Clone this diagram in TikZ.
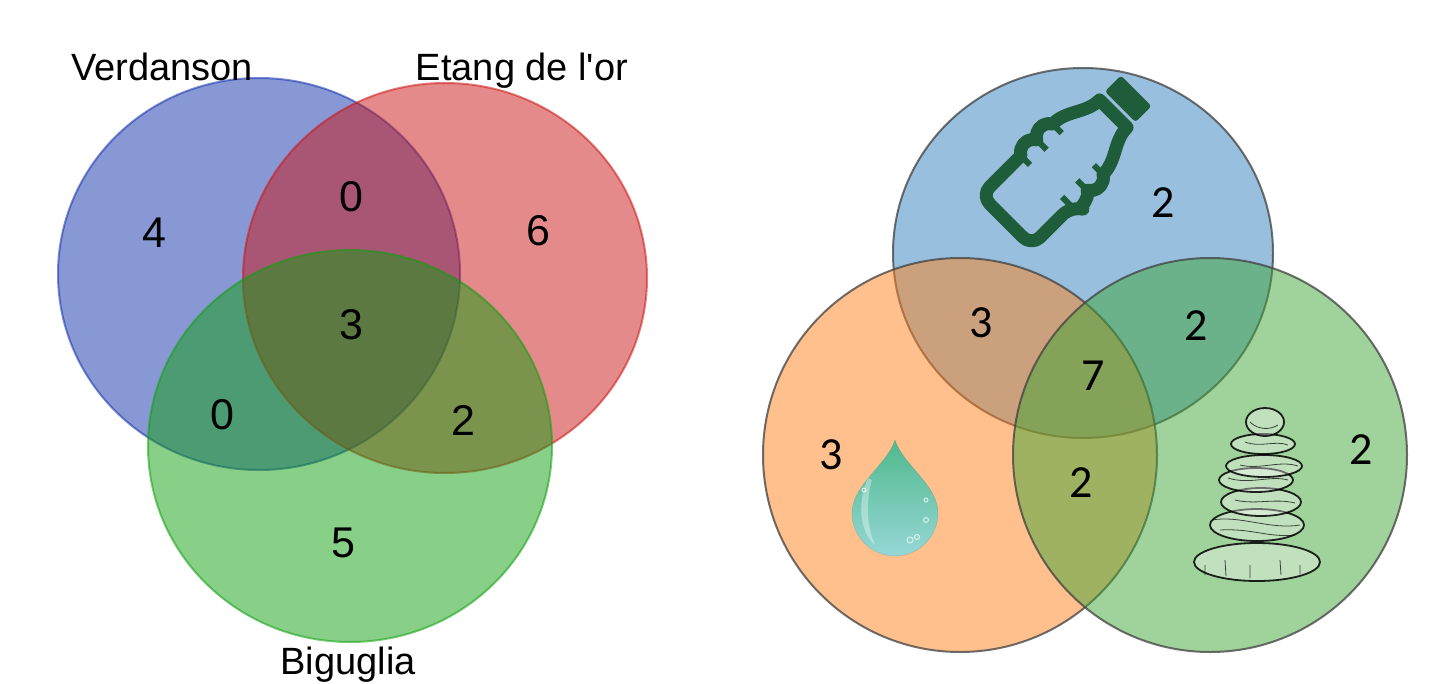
\documentclass[tikz,border=0pt]{standalone}
\usepackage{fontspec}
\setmainfont{Liberation Sans}[Ligatures=TeXOff]
\newfontfamily\calib{Carlito}
\definecolor{lblue}{RGB}{17,49,171}
\definecolor{lred}{RGB}{203,21,21}
\definecolor{lgreen}{RGB}{17,159,17}
\definecolor{rblue}{RGB}{49,129,189}
\definecolor{rorange}{RGB}{255,129,29}
\definecolor{rgreen}{RGB}{65,165,55}
\definecolor{bottle}{RGB}{31,92,58}
\definecolor{dropA}{RGB}{80,185,140}
\definecolor{dropB}{RGB}{150,215,215}
\begin{document}
\begin{tikzpicture}[x=1pt,y=1pt,
  lnum/.style={font=\fontsize{43}{50}\selectfont, inner sep=0pt},
  lab/.style={font=\fontsize{38}{44}\selectfont, inner sep=0pt, anchor=base},
  rnum/.style={font=\calib\fontsize{46}{52}\selectfont, inner sep=0pt},
  lset/.style={fill=#1, fill opacity=0.5, draw=#1, draw opacity=0.55, line width=2},
  rset/.style={fill=#1, fill opacity=0.5, draw=black!75, draw opacity=0.75, line width=2},
  stone/.style={fill=white, fill opacity=0.35, draw=black, draw opacity=0.85, line width=1.8},
  hatch/.style={draw=black, line width=0.8, opacity=0.7}
]
\useasboundingbox (0,0) rectangle (1443,-683);
% ---------- left Venn ----------
\path[lset=lblue] (259,-274) ellipse[x radius=201, y radius=196];
\path[lset=lred] (445,-278) ellipse[x radius=202, y radius=195];
\path[lset=lgreen] (350,-446) ellipse[x radius=202, y radius=196];
\node[lab] (verd) at (162,-80) {Verdanson};
\node[lab] (etang) at (522,-80) {Etang de l'or};
\node[lab] (big) at (348,-674) {Biguglia};
\node[lnum] (l4) at (154,-233) {4};
\node[lnum] (l0a) at (351,-197) {0};
\node[lnum] (l6) at (538,-231) {6};
\node[lnum] (l3) at (351,-325) {3};
\node[lnum] (l0b) at (222,-415) {0};
\node[lnum] (l2) at (463,-420) {2};
\node[lnum] (l5) at (343,-543) {5};
% ---------- right Venn ----------
\path[rset=rblue] (1083,-253) ellipse[x radius=190, y radius=185];
\path[rset=rorange] (960,-455) ellipse[x radius=197, y radius=197];
\path[rset=rgreen] (1210,-455) ellipse[x radius=197, y radius=197];
\node[rnum] (r2a) at (1163,-203) {2};
\node[rnum] (r3a) at (981,-323) {3};
\node[rnum] (r2b) at (1196,-326) {2};
\node[rnum] (r7) at (1093,-376) {7};
\node[rnum] (r3b) at (831,-455) {3};
\node[rnum] (r2c) at (1081,-483) {2};
\node[rnum] (r2d) at (1361,-450) {2};
% ---------- bottle icon ----------
\begin{scope}[shift={(1069,-158)}, rotate=-45, scale=1.08]
\draw[bottle, line width=13, line join=round]
  (33,-30) arc[start angle=-60,end angle=60,radius=12]
  arc[start angle=-60,end angle=60,radius=12]
  .. controls (33,30) and (18,40) .. (18,58) -- (-18,58)
  .. controls (-18,40) and (-33,30) .. (-33,11.6)
  arc[start angle=120,end angle=240,radius=12]
  arc[start angle=120,end angle=240,radius=12]
  [rounded corners=12] -- (-33,-82) -- (33,-82) -- cycle;
\draw[bottle, line width=6] (33,-9.2) -- (20,-9.2) (-33,-9.2) -- (-20,-9.2)
  (33,11.6) -- (21,11.6) (-33,11.6) -- (-21,11.6) (33,-30) -- (21,-30) (-33,-30) -- (-21,-30);
\fill[bottle, rounded corners=3] (-20,67) rectangle (20,88);
\end{scope}
% ---------- water drop ----------
\shade[top color=dropA, bottom color=dropB, draw=dropA!70!black, draw opacity=0.3]
  (895,-440) .. controls (903,-465) and (938,-485) .. (938,-513)
  arc[start angle=0, end angle=-180, radius=43]
  .. controls (852,-485) and (887,-465) .. (895,-440) -- cycle;
\fill[white, opacity=0.35] (868,-478) .. controls (858,-500) and (858,-530) .. (875,-545)
  .. controls (866,-525) and (866,-500) .. (872,-480) -- cycle;
\draw[white, opacity=0.7, line width=1] (926,-520) circle[radius=2.5] (910,-540) circle[radius=3]
  (917,-537) circle[radius=2.5] (926,-500) circle[radius=2] (864,-490) circle[radius=2];
% ---------- stone cairn ----------
\path[stone] (1257,-562) ellipse[x radius=63, y radius=19];
\path[stone] (1257,-525) ellipse[x radius=47, y radius=16];
\path[stone] (1261,-502) ellipse[x radius=40, y radius=14];
\path[stone] (1256,-480) ellipse[x radius=37, y radius=12];
\path[stone] (1264,-466) ellipse[x radius=38, y radius=11];
\path[stone] (1263,-444) ellipse[x radius=32, y radius=10];
\path[stone] (1265,-422) ellipse[x radius=19, y radius=14];
\draw[hatch] (1212,-520) .. controls (1240,-515) and (1270,-530) .. (1300,-525)
  (1220,-530) .. controls (1250,-528) and (1270,-538) .. (1295,-535)
  (1228,-478) .. controls (1250,-485) and (1270,-475) .. (1288,-480)
  (1240,-465) .. controls (1260,-470) and (1280,-460) .. (1298,-466)
  (1235,-500) .. controls (1255,-505) and (1275,-498) .. (1295,-503)
  (1205,-565) -- (1205,-575) (1225,-560) -- (1226,-576) (1250,-565) -- (1250,-578)
  (1280,-560) -- (1281,-575) (1300,-565) -- (1300,-574)
  (1250,-422) .. controls (1258,-430) and (1270,-430) .. (1278,-425)
  (1245,-442) .. controls (1260,-448) and (1275,-440) .. (1288,-445);
\end{tikzpicture}
\end{document}
